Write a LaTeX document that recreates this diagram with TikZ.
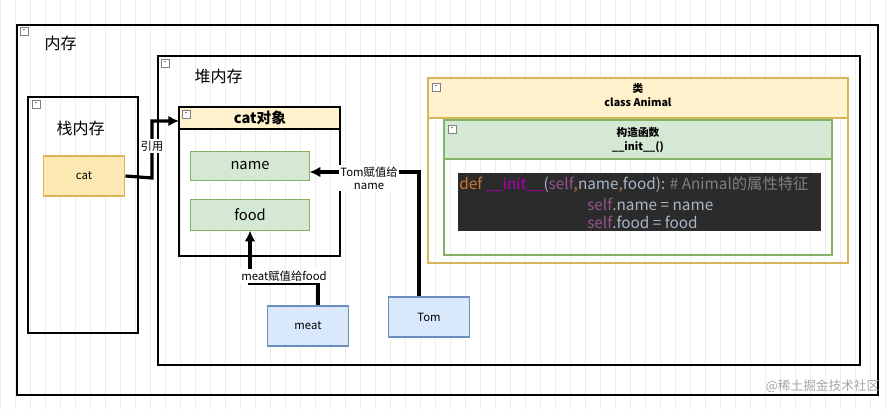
\documentclass[tikz,border=0pt]{standalone}
\usepackage{fontspec}
\setmainfont{Noto Sans CJK SC}
\usetikzlibrary{arrows.meta}
\definecolor{yfill}{HTML}{FFF2CC}\definecolor{ystroke}{HTML}{D6B656}
\definecolor{catfill}{HTML}{FCE8B2}
\definecolor{gfill}{HTML}{D5E8D4}\definecolor{gstroke}{HTML}{82B366}
\definecolor{bfill}{HTML}{DAE8FC}\definecolor{bstroke}{HTML}{6C8EBF}
\definecolor{codebg}{HTML}{2B2B2B}\definecolor{kw}{HTML}{CC7832}
\definecolor{fn}{HTML}{B200B2}\definecolor{slf}{HTML}{94558D}
\definecolor{cmt}{HTML}{808080}\definecolor{txt}{HTML}{A9B7C6}
\begin{document}
\begin{tikzpicture}[x=0.75pt,y=-0.75pt,
 box/.style={draw=black,line width=2.2pt},
 thin/.style={draw=black,line width=0.8pt},
 lbl/.style={font=\fontsize{12}{14}\selectfont,anchor=west},
 small/.style={font=\fontsize{8.5}{10}\selectfont,align=center,fill=white,inner sep=1pt},
 conn/.style={line width=2.4pt,-{Latex[length=8pt,width=8pt]}},
 mini/.style={draw=gray,fill=white,minimum size=6pt,inner sep=0pt,line width=0.4pt,
   label={[inner sep=0pt,font=\fontsize{6}{6}\selectfont]center:-}}]
\useasboundingbox (0,0) rectangle (888,409);
\draw[black!7,step=15] (0,0) grid (888,409);
\draw[box] (17,25) rectangle (878,395);
\node[mini] (m1) at (24,31) {};
\node[lbl] (t1) at (40,43) {内存};
\draw[box] (158,56) rectangle (860,365);
\node[mini] (m2) at (165,63) {};
\node[lbl] (t2) at (190,76) {堆内存};
\draw[box] (28,97) rectangle (138,333);
\node[mini] (m3) at (36,104) {};
\node[lbl] (t3) at (52,128) {栈内存};
\node[draw=ystroke,fill=catfill,line width=1.2pt,minimum width=61pt,minimum height=30pt,font=\fontsize{8.5}{10}\selectfont] (cat) at (84,176) {cat};
% cat object
\draw[thin] (179,107) rectangle (340,256);
\draw[thin,fill=yfill] (179,107) rectangle (340,129);
\node[mini] (m4) at (186,114) {};
\node[font=\bfseries\fontsize{11}{13}\selectfont] (cobj) at (260,118) {cat对象};
\node[draw=gstroke,fill=gfill,minimum width=89pt,minimum height=22pt,font=\fontsize{11}{13}\selectfont] (name) at (250,166) {name};
\node[draw=gstroke,fill=gfill,minimum width=89pt,minimum height=23pt,font=\fontsize{11}{13}\selectfont] (food) at (250,215) {food};
% class
\draw[draw=ystroke,line width=0.8pt] (428,78) rectangle (848,263);
\draw[draw=ystroke,fill=yfill,line width=0.8pt] (428,78) rectangle (848,118);
\node[mini] (m5) at (436,87) {};
\node[font=\bfseries\fontsize{8}{10}\selectfont,align=center] (cls) at (638,95) {类\\class Animal};
\draw[draw=gstroke,line width=1.6pt] (444,120) rectangle (832,255);
\draw[draw=gstroke,fill=gfill,line width=1.6pt] (444,120) rectangle (832,159);
\node[mini] (m6) at (452,129) {};
\node[font=\bfseries\fontsize{8}{10}\selectfont,align=center] (ctor) at (638,140) {构造函数\\\_\_init\_\_()};
\fill[codebg] (458,173) rectangle (821,231);
\node[anchor=west,inner sep=0pt,font=\fontsize{11.5}{13}\selectfont] (c1) at (459,185) {\textcolor{kw}{def} \textcolor{fn}{\_\_init\_\_}\textcolor{txt}{(}\textcolor{slf}{self}\textcolor{kw}{,}\textcolor{txt}{name}\textcolor{kw}{,}\textcolor{txt}{food):} \textcolor{cmt}{\# Animal的属性特征}};
\node[anchor=west,inner sep=0pt,font=\fontsize{11.5}{13}\selectfont] (c2) at (587,204) {\textcolor{slf}{self}\textcolor{txt}{.name = name}};
\node[anchor=west,inner sep=0pt,font=\fontsize{11.5}{13}\selectfont] (c3) at (587,222) {\textcolor{slf}{self}\textcolor{txt}{.food = food}};
% meat, Tom
\node[draw=bstroke,fill=bfill,line width=1.2pt,minimum width=61pt,minimum height=30pt,font=\fontsize{8.5}{10}\selectfont] (meat) at (308,326) {meat};
\node[draw=bstroke,fill=bfill,line width=1.2pt,minimum width=61pt,minimum height=30pt,font=\fontsize{8.5}{10}\selectfont] (tom) at (429,317) {Tom};
\coordinate (cref) at (179,121);
\coordinate (tx) at (419,0);
\coordinate (mx) at (318,0);
% connectors
\draw[conn] (cat.east) -- (152,178) -- (152,121) -- (cref);
\node[small] (l1) at (152,146) {引用};
\draw[conn] (tom.north -| tx) -- (419,172) -- (name.east |- 0,172);
\node[small] (l2) at (369,178) {Tom赋值给\\name};
\draw[conn] (meat.north -| mx) -- (318,283) -- (250,283) -- (food.south);
\node[small] (l3) at (284,276) {meat赋值给food};
\node[font=\fontsize{9.5}{11}\selectfont,text=gray!70,anchor=east] (wm) at (884,386) {@稀土掘金技术社区};
\end{tikzpicture}
\end{document}
